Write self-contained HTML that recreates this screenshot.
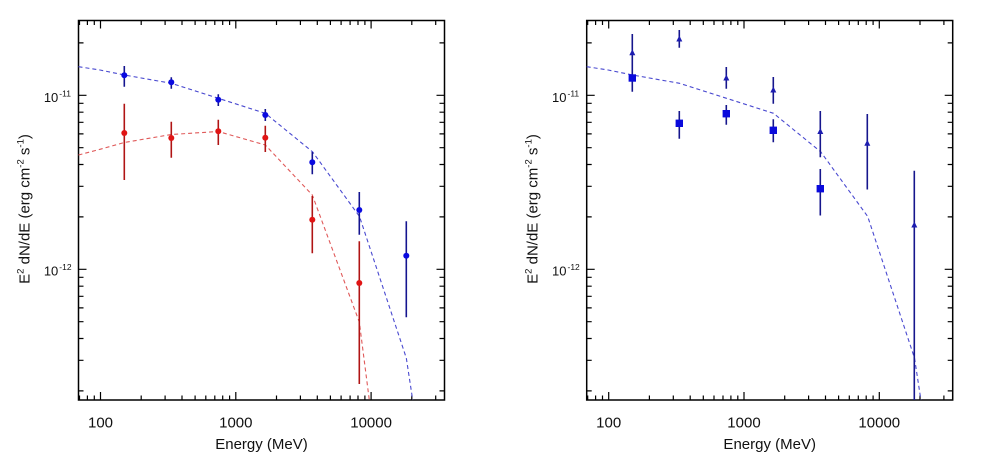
<!DOCTYPE html>
<html>
<head>
<meta charset="utf-8">
<style>
  html,body{margin:0;padding:0;background:#fff;}
  body{width:996px;height:457px;overflow:hidden;}
  svg{display:block;}
  text{font-family:"Liberation Sans","DejaVu Sans",sans-serif;fill:#111;white-space:pre;}
</style>
</head>
<body>
<svg width="996" height="457" viewBox="0 0 996 457" xmlns="http://www.w3.org/2000/svg">
  <defs>
    <g id="axes">
      <rect x="78.5" y="20.5" width="366" height="379.5" fill="none" stroke="#000" stroke-width="1.5"/>
      <g stroke="#000" stroke-width="1.2">
        <path d="M100.5 400v-8M235.8 400v-8M371.1 400v-8M100.5 20.5v8M235.8 20.5v8M371.1 20.5v8"/>
        <path d="M79.5 400v-4.5M87.4 400v-4.5M94.3 400v-4.5
                 M141.2 400v-4.5M165.1 400v-4.5M182 400v-4.5M195.1 400v-4.5M205.8 400v-4.5M214.8 400v-4.5M222.7 400v-4.5M229.6 400v-4.5
                 M276.5 400v-4.5M300.4 400v-4.5M317.3 400v-4.5M330.4 400v-4.5M341.1 400v-4.5M350.1 400v-4.5M358 400v-4.5M364.9 400v-4.5
                 M411.8 400v-4.5M435.7 400v-4.5"/>
        <path d="M79.5 20.5v4.5M87.4 20.5v4.5M94.3 20.5v4.5
                 M141.2 20.5v4.5M165.1 20.5v4.5M182 20.5v4.5M195.1 20.5v4.5M205.8 20.5v4.5M214.8 20.5v4.5M222.7 20.5v4.5M229.6 20.5v4.5
                 M276.5 20.5v4.5M300.4 20.5v4.5M317.3 20.5v4.5M330.4 20.5v4.5M341.1 20.5v4.5M350.1 20.5v4.5M358 20.5v4.5M364.9 20.5v4.5
                 M411.8 20.5v4.5M435.7 20.5v4.5"/>
        <path d="M78.5 95.3h8M78.5 269.3h8M444.5 95.3h-8M444.5 269.3h-8"/>
        <path d="M78.5 42.9h5M78.5 103.3h5M78.5 112.2h5M78.5 122.3h5M78.5 133.9h5M78.5 147.7h5M78.5 164.5h5M78.5 186.3h5M78.5 216.9h5
                 M78.5 277.3h5M78.5 286.2h5M78.5 296.3h5M78.5 307.9h5M78.5 321.7h5M78.5 338.5h5M78.5 360.3h5M78.5 390.9h5"/>
        <path d="M444.5 42.9h-5M444.5 103.3h-5M444.5 112.2h-5M444.5 122.3h-5M444.5 133.9h-5M444.5 147.7h-5M444.5 164.5h-5M444.5 186.3h-5M444.5 216.9h-5
                 M444.5 277.3h-5M444.5 286.2h-5M444.5 296.3h-5M444.5 307.9h-5M444.5 321.7h-5M444.5 338.5h-5M444.5 360.3h-5M444.5 390.9h-5"/>
      </g>
      <text x="100.5" y="427.5" font-size="15" text-anchor="middle">100</text>
      <text x="235.8" y="427.5" font-size="15" text-anchor="middle">1000</text>
      <text x="371.1" y="427.5" font-size="15" text-anchor="middle">10000</text>
      <text x="261.5" y="449" font-size="15" text-anchor="middle">Energy (MeV)</text>
      <text x="58.3" y="101.8" font-size="13" text-anchor="end">10</text>
      <text x="59.3" y="96.3" font-size="8.5">-11</text>
      <text x="58.3" y="275.3" font-size="13" text-anchor="end">10</text>
      <text x="59.3" y="269.8" font-size="8.5">-12</text>
      <text transform="translate(29.5,209) rotate(-90)" font-size="15" text-anchor="middle">E<tspan font-size="9.5" dy="-6">2</tspan><tspan dy="6"> dN/dE (erg cm</tspan><tspan font-size="9.5" dy="-6">-2</tspan><tspan dy="6"> s</tspan><tspan font-size="9.5" dy="-6">-1</tspan><tspan dy="6">)</tspan></text>
    </g>
    <polyline id="bluecurve" fill="none" stroke="#4a4ad0" stroke-width="1.1" stroke-dasharray="4 3"
      points="78.5,66.7 100,70 124.3,75 171.3,83.3 218.3,98.3 265.3,113.3 312.5,151.8 359.5,216.5 406.3,358 412.7,400"/>
  </defs>

  <!-- LEFT PANEL -->
  <use href="#axes"/>
  <use href="#bluecurve"/>
  <polyline fill="none" stroke="#e05a5a" stroke-width="1.1" stroke-dasharray="4 3"
    points="78.5,155 100,149.3 124.3,142.5 171.3,134.5 218.3,131.5 265.3,145 312.3,195 359.3,322 369.3,400"/>
  <g stroke="#b01414" stroke-width="1.6">
    <path d="M124.3 103.7V180M171.3 121.7V157.7M218.3 119.7V145M265.3 125.7V152M312.3 196V253.3M359.3 241.3V384"/>
  </g>
  <g stroke="#14148f" stroke-width="1.6">
    <path d="M124.3 66V86.7M171.3 77.3V88.7M218.3 94.3V106M265.3 109V121M312.3 152V174.3M359.3 192V234.7M406.3 221.3V317.3"/>
  </g>
  <g fill="#e01414">
    <circle cx="124.3" cy="133" r="3"/>
    <circle cx="171.3" cy="138" r="3"/>
    <circle cx="218.3" cy="131.3" r="3"/>
    <circle cx="265.3" cy="137.7" r="3"/>
    <circle cx="312.3" cy="219.7" r="3"/>
    <circle cx="359.3" cy="283" r="3"/>
  </g>
  <g fill="#0a0ae0">
    <circle cx="124.3" cy="75.3" r="3"/>
    <circle cx="171.3" cy="82.3" r="3"/>
    <circle cx="218.3" cy="99.7" r="3"/>
    <circle cx="265.3" cy="115" r="3"/>
    <circle cx="312.3" cy="162.3" r="3"/>
    <circle cx="359.3" cy="210" r="3"/>
    <circle cx="406.3" cy="255.7" r="3"/>
  </g>

  <!-- RIGHT PANEL -->
  <g transform="translate(508.2,0)">
    <use href="#axes"/>
    <use href="#bluecurve"/>
    <g stroke="#16168c" stroke-width="1.6">
      <path d="M124.1 34V91.7M171.1 30V47.7M218.1 67V88.7M265.1 77V103.7M312.1 111V157.3M359.1 114V189.5M406.1 170.8V400"/>
      <path d="M171.1 111V138.7M218.1 105V124.7M265.1 119.3V142.3M312.1 169V215.5"/>
    </g>
    <g fill="#0a0adc">
      <rect x="120.4" y="74.3" width="7.4" height="7.4"/>
      <rect x="167.4" y="119.6" width="7.4" height="7.4"/>
      <rect x="214.4" y="110" width="7.4" height="7.4"/>
      <rect x="261.4" y="126.6" width="7.4" height="7.4"/>
      <rect x="308.4" y="185" width="7.4" height="7.4"/>
    </g>
    <g fill="#1c1cb0">
      <polygon points="121.1,55.2 127.1,55.2 124.1,49.2"/>
      <polygon points="168.1,41.5 174.1,41.5 171.1,35.5"/>
      <polygon points="215.1,80.5 221.1,80.5 218.1,74.5"/>
      <polygon points="262.1,92.5 268.1,92.5 265.1,86.5"/>
      <polygon points="309.1,134 315.1,134 312.1,128"/>
      <polygon points="356.1,145.8 362.1,145.8 359.1,139.8"/>
      <polygon points="403.1,227.5 409.1,227.5 406.1,221.5"/>
    </g>
  </g>
</svg>
</body>
</html>
